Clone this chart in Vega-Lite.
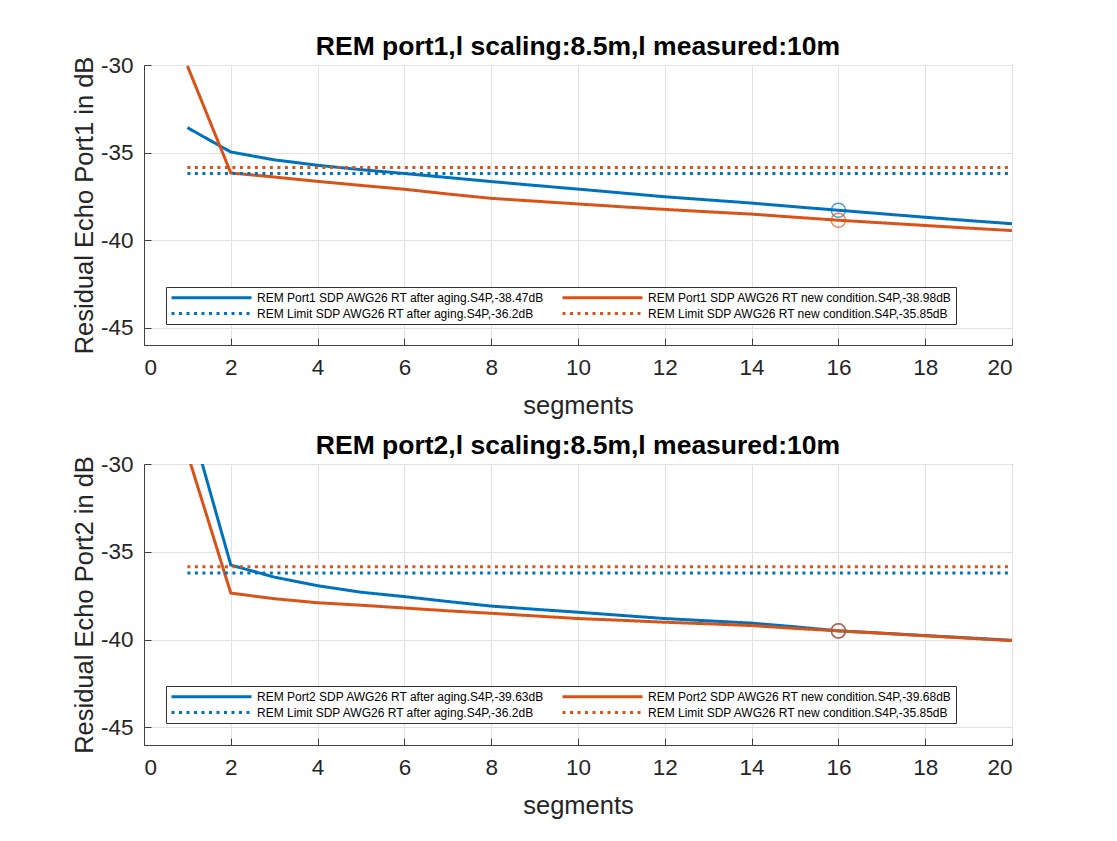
{
  "$schema": "https://vega.github.io/schema/vega-lite/v6.json",
  "background": "white",
  "padding": {"left": 71, "top": 33, "right": 10, "bottom": 5},
  "spacing": 12,
  "datasets": {
    "names": [
      {"s": "1a", "name": "REM Port1 SDP AWG26 RT after aging.S4P,-38.47dB"},
      {"s": "1b", "name": "REM Port1 SDP AWG26 RT new condition.S4P,-38.98dB"},
      {"s": "1c", "name": "REM Limit SDP AWG26 RT after aging.S4P,-36.2dB"},
      {"s": "1d", "name": "REM Limit SDP AWG26 RT new condition.S4P,-35.85dB"},
      {"s": "2a", "name": "REM Port2 SDP AWG26 RT after aging.S4P,-39.63dB"},
      {"s": "2b", "name": "REM Port2 SDP AWG26 RT new condition.S4P,-39.68dB"},
      {"s": "2c", "name": "REM Limit SDP AWG26 RT after aging.S4P,-36.2dB"},
      {"s": "2d", "name": "REM Limit SDP AWG26 RT new condition.S4P,-35.85dB"}
    ],
    "curves": [
      {"p": 1, "s": "1a", "x": 1, "y": -33.58},
      {"p": 1, "s": "1a", "x": 2, "y": -34.97},
      {"p": 1, "s": "1a", "x": 3, "y": -35.42},
      {"p": 1, "s": "1a", "x": 4, "y": -35.73},
      {"p": 1, "s": "1a", "x": 5, "y": -35.98},
      {"p": 1, "s": "1a", "x": 6, "y": -36.2},
      {"p": 1, "s": "1a", "x": 7, "y": -36.43},
      {"p": 1, "s": "1a", "x": 8, "y": -36.66},
      {"p": 1, "s": "1a", "x": 9, "y": -36.88},
      {"p": 1, "s": "1a", "x": 10, "y": -37.09},
      {"p": 1, "s": "1a", "x": 11, "y": -37.31},
      {"p": 1, "s": "1a", "x": 12, "y": -37.53},
      {"p": 1, "s": "1a", "x": 13, "y": -37.71},
      {"p": 1, "s": "1a", "x": 14, "y": -37.89},
      {"p": 1, "s": "1a", "x": 15, "y": -38.1},
      {"p": 1, "s": "1a", "x": 16, "y": -38.3},
      {"p": 1, "s": "1a", "x": 17, "y": -38.5},
      {"p": 1, "s": "1a", "x": 18, "y": -38.7},
      {"p": 1, "s": "1a", "x": 19, "y": -38.89},
      {"p": 1, "s": "1a", "x": 20, "y": -39.07},
      {"p": 1, "s": "1b", "x": 1, "y": -30.05},
      {"p": 1, "s": "1b", "x": 2, "y": -36.17},
      {"p": 1, "s": "1b", "x": 3, "y": -36.4},
      {"p": 1, "s": "1b", "x": 4, "y": -36.65},
      {"p": 1, "s": "1b", "x": 5, "y": -36.88},
      {"p": 1, "s": "1b", "x": 6, "y": -37.1},
      {"p": 1, "s": "1b", "x": 7, "y": -37.37},
      {"p": 1, "s": "1b", "x": 8, "y": -37.62},
      {"p": 1, "s": "1b", "x": 9, "y": -37.78},
      {"p": 1, "s": "1b", "x": 10, "y": -37.94},
      {"p": 1, "s": "1b", "x": 11, "y": -38.1},
      {"p": 1, "s": "1b", "x": 12, "y": -38.25},
      {"p": 1, "s": "1b", "x": 13, "y": -38.39},
      {"p": 1, "s": "1b", "x": 14, "y": -38.52},
      {"p": 1, "s": "1b", "x": 15, "y": -38.7},
      {"p": 1, "s": "1b", "x": 16, "y": -38.87},
      {"p": 1, "s": "1b", "x": 17, "y": -39.02},
      {"p": 1, "s": "1b", "x": 18, "y": -39.17},
      {"p": 1, "s": "1b", "x": 19, "y": -39.32},
      {"p": 1, "s": "1b", "x": 20, "y": -39.46},
      {"p": 1, "s": "1c", "x": 1, "y": -36.2},
      {"p": 1, "s": "1c", "x": 20, "y": -36.2},
      {"p": 1, "s": "1d", "x": 1, "y": -35.85},
      {"p": 1, "s": "1d", "x": 20, "y": -35.85},
      {"p": 2, "s": "2a", "x": 1, "y": -27.0},
      {"p": 2, "s": "2a", "x": 2, "y": -35.75},
      {"p": 2, "s": "2a", "x": 3, "y": -36.44},
      {"p": 2, "s": "2a", "x": 4, "y": -36.93},
      {"p": 2, "s": "2a", "x": 5, "y": -37.3},
      {"p": 2, "s": "2a", "x": 6, "y": -37.55},
      {"p": 2, "s": "2a", "x": 7, "y": -37.83},
      {"p": 2, "s": "2a", "x": 8, "y": -38.09},
      {"p": 2, "s": "2a", "x": 9, "y": -38.27},
      {"p": 2, "s": "2a", "x": 10, "y": -38.44},
      {"p": 2, "s": "2a", "x": 11, "y": -38.62},
      {"p": 2, "s": "2a", "x": 12, "y": -38.8},
      {"p": 2, "s": "2a", "x": 13, "y": -38.93},
      {"p": 2, "s": "2a", "x": 14, "y": -39.06},
      {"p": 2, "s": "2a", "x": 15, "y": -39.27},
      {"p": 2, "s": "2a", "x": 16, "y": -39.5},
      {"p": 2, "s": "2a", "x": 17, "y": -39.63},
      {"p": 2, "s": "2a", "x": 18, "y": -39.77},
      {"p": 2, "s": "2a", "x": 19, "y": -39.9},
      {"p": 2, "s": "2a", "x": 20, "y": -40.04},
      {"p": 2, "s": "2b", "x": 1, "y": -29.4},
      {"p": 2, "s": "2b", "x": 2, "y": -37.35},
      {"p": 2, "s": "2b", "x": 3, "y": -37.67},
      {"p": 2, "s": "2b", "x": 4, "y": -37.9},
      {"p": 2, "s": "2b", "x": 5, "y": -38.04},
      {"p": 2, "s": "2b", "x": 6, "y": -38.2},
      {"p": 2, "s": "2b", "x": 7, "y": -38.36},
      {"p": 2, "s": "2b", "x": 8, "y": -38.5},
      {"p": 2, "s": "2b", "x": 9, "y": -38.65},
      {"p": 2, "s": "2b", "x": 10, "y": -38.8},
      {"p": 2, "s": "2b", "x": 11, "y": -38.9},
      {"p": 2, "s": "2b", "x": 12, "y": -39.01},
      {"p": 2, "s": "2b", "x": 13, "y": -39.1},
      {"p": 2, "s": "2b", "x": 14, "y": -39.2},
      {"p": 2, "s": "2b", "x": 15, "y": -39.36},
      {"p": 2, "s": "2b", "x": 16, "y": -39.5},
      {"p": 2, "s": "2b", "x": 17, "y": -39.64},
      {"p": 2, "s": "2b", "x": 18, "y": -39.78},
      {"p": 2, "s": "2b", "x": 19, "y": -39.92},
      {"p": 2, "s": "2b", "x": 20, "y": -40.06},
      {"p": 2, "s": "2c", "x": 1, "y": -36.2},
      {"p": 2, "s": "2c", "x": 20, "y": -36.2},
      {"p": 2, "s": "2d", "x": 1, "y": -35.85},
      {"p": 2, "s": "2d", "x": 20, "y": -35.85}
    ],
    "markers": [
      {"s": "1a", "x": 16, "y": -38.3},
      {"s": "1b", "x": 16, "y": -38.87},
      {"s": "2a", "x": 16, "y": -39.5},
      {"s": "2b", "x": 16, "y": -39.5}
    ]
  },
  "vconcat": [
    {
      "title": {"text": "REM port1,l scaling:8.5m,l measured:10m"},
      "width": 868,
      "height": 280,
      "layer": [
        {
          "data": {"name": "curves"},
          "transform": [
            {"filter": "datum.p == 1"},
            {"lookup": "s", "from": {"data": {"name": "names"}, "key": "s", "fields": ["name"]}}
          ],
          "mark": {"type": "line", "strokeWidth": 3, "clip": true},
          "encoding": {
            "x": {"field": "x", "type": "quantitative", "scale": {"domain": [0, 20]}, "axis": {"values": [0, 2, 4, 6, 8, 10, 12, 14, 16, 18, 20], "title": "segments"}},
            "y": {"field": "y", "type": "quantitative", "scale": {"domain": [-45, -30]}, "axis": {"values": [-45, -40, -35, -30], "title": "Residual Echo Port1 in dB", "labelExpr": "replace(datum.label, '−', '-')"}},
            "color": {
              "field": "name", "type": "nominal",
              "scale": {"domain": ["REM Port1 SDP AWG26 RT after aging.S4P,-38.47dB", "REM Limit SDP AWG26 RT after aging.S4P,-36.2dB", "REM Port1 SDP AWG26 RT new condition.S4P,-38.98dB", "REM Limit SDP AWG26 RT new condition.S4P,-35.85dB"], "range": ["#0072BD", "#0072BD", "#D95319", "#D95319"]},
              "legend": {"title": null}
            },
            "strokeDash": {
              "field": "name", "type": "nominal",
              "scale": {"domain": ["REM Port1 SDP AWG26 RT after aging.S4P,-38.47dB", "REM Limit SDP AWG26 RT after aging.S4P,-36.2dB", "REM Port1 SDP AWG26 RT new condition.S4P,-38.98dB", "REM Limit SDP AWG26 RT new condition.S4P,-35.85dB"], "range": [[1, 0], [3, 4.5], [1, 0], [3, 4.5]]},
              "legend": {"title": null}
            }
          }
        },
        {
          "data": {"name": "markers"},
          "transform": [{"filter": "datum.s == '1a'"}],
          "mark": {"type": "point", "shape": "circle", "filled": false, "size": 200, "strokeWidth": 1.5, "color": "#0072BD"},
          "encoding": {"x": {"field": "x", "type": "quantitative"}, "y": {"field": "y", "type": "quantitative"}}
        },
        {
          "data": {"name": "markers"},
          "transform": [{"filter": "datum.s == '1b'"}],
          "mark": {"type": "point", "shape": "circle", "filled": false, "size": 200, "strokeWidth": 1.5, "color": "#D95319"},
          "encoding": {"x": {"field": "x", "type": "quantitative"}, "y": {"field": "y", "type": "quantitative"}}
        }
      ]
    },
    {
      "title": {"text": "REM port2,l scaling:8.5m,l measured:10m"},
      "width": 868,
      "height": 281,
      "layer": [
        {
          "data": {"name": "curves"},
          "transform": [
            {"filter": "datum.p == 2"},
            {"lookup": "s", "from": {"data": {"name": "names"}, "key": "s", "fields": ["name"]}}
          ],
          "mark": {"type": "line", "strokeWidth": 3, "clip": true},
          "encoding": {
            "x": {"field": "x", "type": "quantitative", "scale": {"domain": [0, 20]}, "axis": {"values": [0, 2, 4, 6, 8, 10, 12, 14, 16, 18, 20], "title": "segments"}},
            "y": {"field": "y", "type": "quantitative", "scale": {"domain": [-45, -30]}, "axis": {"values": [-45, -40, -35, -30], "title": "Residual Echo Port2 in dB", "labelExpr": "replace(datum.label, '−', '-')"}},
            "color": {
              "field": "name", "type": "nominal",
              "scale": {"domain": ["REM Port2 SDP AWG26 RT after aging.S4P,-39.63dB", "REM Limit SDP AWG26 RT after aging.S4P,-36.2dB", "REM Port2 SDP AWG26 RT new condition.S4P,-39.68dB", "REM Limit SDP AWG26 RT new condition.S4P,-35.85dB"], "range": ["#0072BD", "#0072BD", "#D95319", "#D95319"]},
              "legend": {"title": null}
            },
            "strokeDash": {
              "field": "name", "type": "nominal",
              "scale": {"domain": ["REM Port2 SDP AWG26 RT after aging.S4P,-39.63dB", "REM Limit SDP AWG26 RT after aging.S4P,-36.2dB", "REM Port2 SDP AWG26 RT new condition.S4P,-39.68dB", "REM Limit SDP AWG26 RT new condition.S4P,-35.85dB"], "range": [[1, 0], [3, 4.5], [1, 0], [3, 4.5]]},
              "legend": {"title": null}
            }
          }
        },
        {
          "data": {"name": "markers"},
          "transform": [{"filter": "datum.s == '2a'"}],
          "mark": {"type": "point", "shape": "circle", "filled": false, "size": 200, "strokeWidth": 1.5, "color": "#0072BD"},
          "encoding": {"x": {"field": "x", "type": "quantitative"}, "y": {"field": "y", "type": "quantitative"}}
        },
        {
          "data": {"name": "markers"},
          "transform": [{"filter": "datum.s == '2b'"}],
          "mark": {"type": "point", "shape": "circle", "filled": false, "size": 200, "strokeWidth": 1.5, "color": "#D95319"},
          "encoding": {"x": {"field": "x", "type": "quantitative"}, "y": {"field": "y", "type": "quantitative"}}
        }
      ]
    }
  ],
  "resolve": {"scale": {"color": "independent", "strokeDash": "independent"}, "legend": {"color": "independent", "strokeDash": "independent"}},
  "config": {
    "font": "Liberation Sans",
    "view": {"stroke": "#404040", "strokeWidth": 1},
    "title": {"fontSize": 26.5, "fontWeight": "bold", "color": "#000000", "anchor": "middle", "offset": -6},
    "axis": {
      "labelFontSize": 22.5,
      "titleFontSize": 25.5,
      "titleFontWeight": "normal",
      "labelColor": "#262626",
      "titleColor": "#262626",
      "gridColor": "#e2e2e2",
      "domainColor": "#404040",
      "tickColor": "#404040",
      "ticks": true,
      "tickSize": -7,
      "tickWidth": 1,
      "labelPadding": 18
    },
    "axisX": {"titlePadding": 15},
    "axisY": {"titlePadding": 3},
    "legend": {
      "orient": "none",
      "legendX": 22,
      "legendY": 222,
      "columns": 2,
      "symbolType": "M-8,0H8",
      "symbolSize": 100,
      "symbolOffset": 35,
      "symbolStrokeWidth": 3,
      "labelFontSize": 12,
      "labelColor": "#000000",
      "labelLimit": 500,
      "strokeColor": "#333333",
      "fillColor": "#ffffff",
      "padding": 4,
      "rowPadding": 3,
      "columnPadding": 11,
      "labelOffset": 39
    }
  }
}
